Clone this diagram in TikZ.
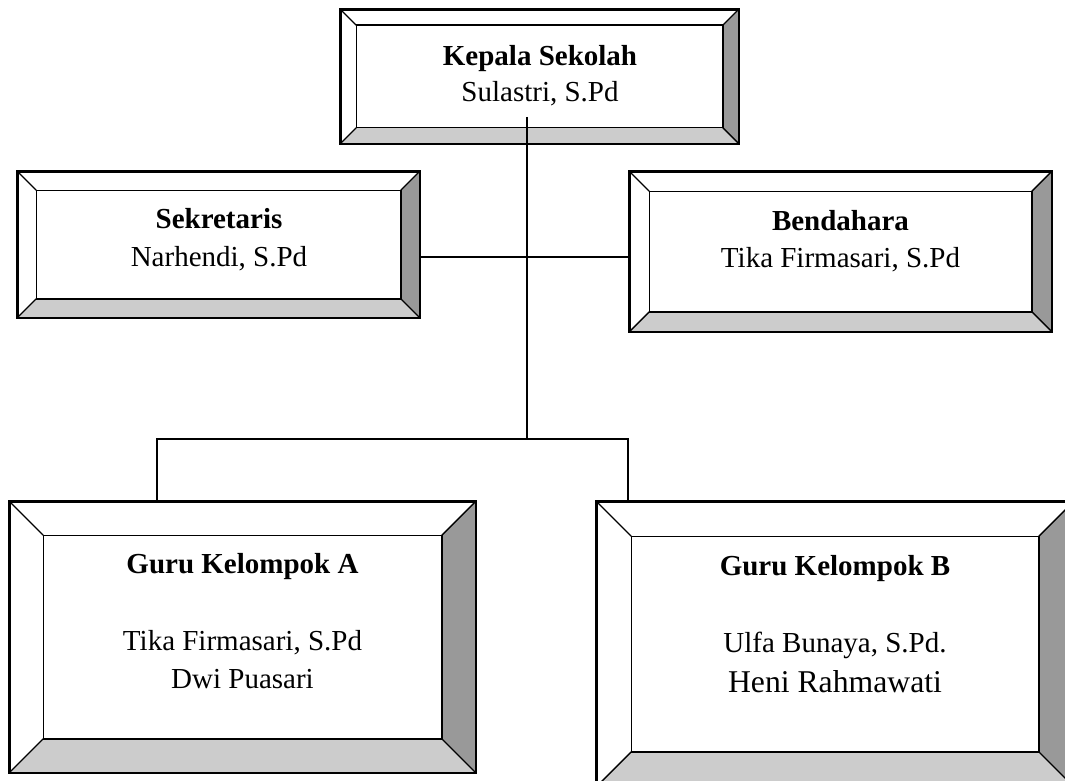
\documentclass[tikz,border=0pt]{standalone}
\usepackage{fontspec}
\setmainfont{Liberation Serif}
\usetikzlibrary{calc}
\definecolor{bevdark}{HTML}{999999}
\definecolor{bevlight}{HTML}{CCCCCC}
\tikzset{
  outerbox/.style={draw, line width=1.6pt, inner sep=0pt, fill=white},
  bevline/.style={line width=1.4pt, line join=miter},
  conn/.style={line width=1.3pt},
  lbl/.style={anchor=base, inner sep=0pt, font=\fontsize{29}{36}\selectfont},
  lblbig/.style={anchor=base, inner sep=0pt, font=\fontsize{31.7}{38}\selectfont}
}
% #1 name, #2 bevel
\newcommand\drawbevel[2]{%
  \coordinate (#1IA) at ($(#1.north west)+(#2,#2)$);
  \coordinate (#1IB) at ($(#1.north east)+(-#2,#2)$);
  \coordinate (#1IC) at ($(#1.south east)+(-#2,-#2)$);
  \coordinate (#1ID) at ($(#1.south west)+(#2,-#2)$);
  \fill[bevdark] (#1.north east) -- (#1IB) -- (#1IC) -- (#1.south east) -- cycle;
  \fill[bevlight] (#1.south west) -- (#1ID) -- (#1IC) -- (#1.south east) -- cycle;
  \draw[bevline] (#1IA) rectangle (#1IC);
  \draw[bevline] (#1.north west) -- (#1IA) (#1.north east) -- (#1IB)
                 (#1.south east) -- (#1IC) (#1.south west) -- (#1ID);
  \draw[line width=1.6pt] (#1.north west) rectangle (#1.south east);
}
\begin{document}
\begin{tikzpicture}[x=1pt,y=-1pt]
\useasboundingbox (0,0) rectangle (1065,781);
\clip (0,0) rectangle (1065,781);
\fill[white] (0,0) rectangle (1065,781);

% boxes
\node[outerbox, minimum width=397pt, minimum height=133pt] (kep) at (539.5,76.5) {};
\drawbevel{kep}{16}
\node[outerbox, minimum width=401pt, minimum height=145pt] (sek) at (218.5,244.5) {};
\drawbevel{sek}{19}
\node[outerbox, minimum width=421pt, minimum height=159pt] (ben) at (840.5,251.5) {};
\drawbevel{ben}{20}
\node[outerbox, minimum width=465pt, minimum height=270pt] (gA) at (242.5,637) {};
\drawbevel{gA}{34}
\node[outerbox, minimum width=476pt, minimum height=284pt] (gB) at (835,644) {};
\drawbevel{gB}{35}

% connectors
\coordinate (kstem) at (527,117);
\coordinate (bus) at (527,439);
\coordinate (busL) at (157,439);
\coordinate (busR) at (628,439);
\draw[conn] (kstem) -- (bus);
\draw[conn] (sek.east |- 0,257) -- (ben.west |- 0,257);
\draw[conn] (gA.north -| busL) -- (busL) -- (busR) -- (gB.north -| busR);

% labels
\node[lbl] (kepT) at (540,66) {\textbf{Kepala Sekolah}};
\node[lbl] (kepN) at (540,102) {Sulastri, S.Pd};
\node[lbl] (sekT) at (219,228) {\textbf{Sekretaris}};
\node[lbl] (sekN) at (219,266) {Narhendi, S.Pd};
\node[lbl] (benT) at (840.5,230) {\textbf{Bendahara}};
\node[lbl] (benN) at (840.5,267) {Tika Firmasari, S.Pd};
\node[lbl] (gAT) at (242.5,573) {\textbf{Guru Kelompok A}};
\node[lbl] (gAN1) at (242.5,650) {Tika Firmasari, S.Pd};
\node[lbl] (gAN2) at (242.5,688) {Dwi Puasari};
\node[lbl] (gBT) at (835,575) {\textbf{Guru Kelompok B}};
\node[lbl] (gBN1) at (835,652) {Ulfa Bunaya, S.Pd.};
\node[lblbig] (gBN2) at (835,692) {Heni Rahmawati};
\end{tikzpicture}
\end{document}
